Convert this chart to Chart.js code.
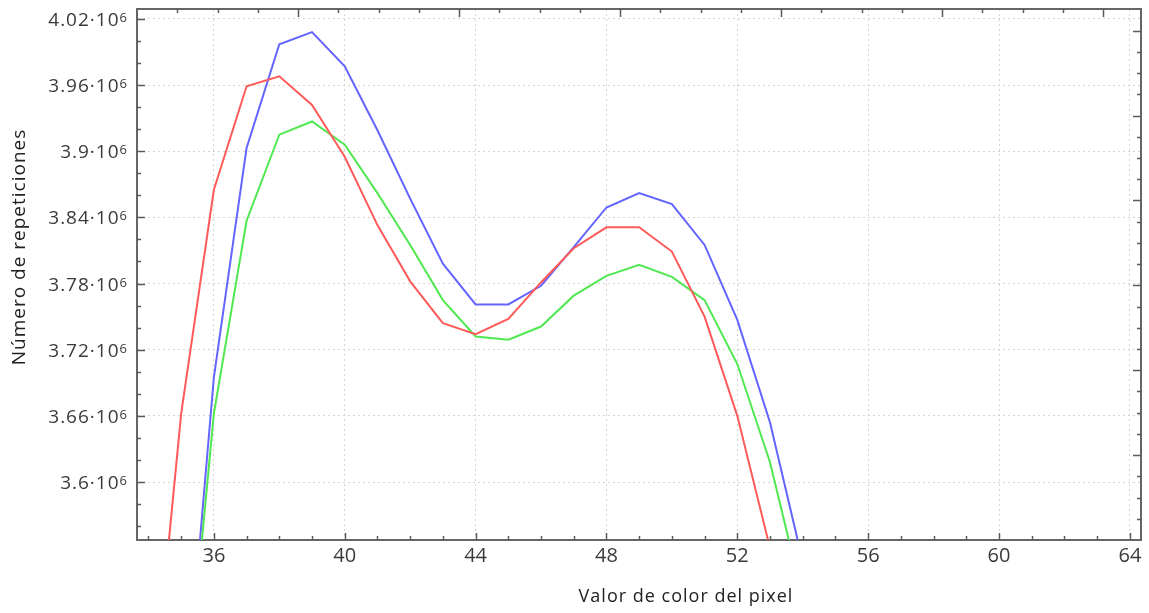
<!DOCTYPE html>
<html>
<head>
<meta charset="utf-8">
<script src="https://cdn.jsdelivr.net/npm/chart.js@4/dist/chart.umd.min.js"></script>
<style>
  html, body { margin: 0; padding: 0; background: #fff; }
</style>
</head>
<body>
<canvas id="chart" width="1149" height="613"></canvas>
<script>
// pixel colour value (x) and number of repetitions per channel
const pixelValues = [34, 35, 36, 37, 38, 39, 40, 41, 42, 43, 44, 45, 46, 47, 48, 49, 50, 51, 52, 53, 54];
const redCounts   = [3355000, 3662000, 3865000, 3959000, 3968000, 3942000, 3895000, 3833000, 3782000, 3744000, 3734000,
                     3748000, 3781000, 3812000, 3831000, 3831000, 3809000, 3750000, 3660000, 3540000, 3400000];
const blueCounts  = [null, 3347000, 3695000, 3903000, 3997000, 4008000, 3977000, 3919000, 3857000, 3798000, 3761000,
                     3761000, 3778000, 3813000, 3849000, 3862000, 3852000, 3815000, 3747000, 3654000, 3528000];
const greenCounts = [null, 3348000, 3662000, 3837000, 3915000, 3927000, 3906000, 3862000, 3815000, 3765000, 3732000,
                     3729000, 3741000, 3769000, 3787000, 3797000, 3786000, 3765000, 3707000, 3618000, 3495000];

const xTickLabels = [36, 40, 44, 48, 52, 56, 60, 64];
const yTickLabels = [3600000, 3660000, 3720000, 3780000, 3840000, 3900000, 3960000, 4020000];

const toPoints = arr => arr.map((v, i) => ({ x: pixelValues[i], y: v }));

// small tick marks pointing into the plot, on all four sides
const innerTicks = {
  id: 'innerTicks',
  afterDraw(chart) {
    const { ctx, chartArea: a, scales } = chart;
    ctx.save();
    ctx.strokeStyle = '#5a5a5a';
    ctx.lineWidth = 1.5;
    const mark = (x1, y1, x2, y2) => { ctx.beginPath(); ctx.moveTo(x1, y1); ctx.lineTo(x2, y2); ctx.stroke(); };
    for (let v = 34; v <= 64; v++) {
      const px = Math.round(scales.x.getPixelForValue(v)) + 0.5;
      mark(px, a.bottom, px, a.bottom - (v % 4 === 0 ? 7 : 4));
    }
    for (let k = 178; k <= 201; k++) {
      const py = Math.round(scales.y.getPixelForValue(k * 20000)) + 0.5;
      mark(a.left, py, a.left + (k % 3 === 0 ? 8 : 4), py);
    }
    for (let k = 1; k <= 24; k++) {
      const px = Math.round(scales.x2.getPixelForValue(k)) + 0.5;
      mark(px, a.top, px, a.top + (k % 4 === 0 ? 8 : 4));
    }
    for (let k = 1; k <= 24; k++) {
      const py = Math.round(scales.y2.getPixelForValue(k)) + 0.5;
      mark(a.right, py, a.right - (k % 4 === 0 ? 8 : 4), py);
    }
    ctx.restore();
  }
};

// y tick labels as "3.9·10" with a raised 6
const yLabels = {
  id: 'yLabels',
  afterDraw(chart) {
    const { ctx, scales: { y } } = chart;
    const right = 127;
    ctx.save();
    ctx.fillStyle = '#3a3a3a';
    ctx.textAlign = 'right';
    ctx.textBaseline = 'alphabetic';
    y.ticks.forEach(t => {
      const py = y.getPixelForValue(t.value);
      ctx.font = '13px "Open Sans"';
      ctx.letterSpacing = '0px';
      const supW = ctx.measureText('6').width;
      ctx.fillText('6', right, py + 3);
      ctx.font = '19px "Open Sans"';
      ctx.letterSpacing = '1px';
      ctx.fillText(parseFloat((t.value / 1e6).toFixed(2)) + '·10', right - supW, py + 7);
    });
    ctx.restore();
  }
};

// axis titles, placed where the original has them
const axisTitles = {
  id: 'axisTitles',
  afterDraw(chart) {
    const { ctx } = chart;
    ctx.save();
    ctx.fillStyle = '#222';
    ctx.textAlign = 'center';
    ctx.textBaseline = 'middle';
    ctx.letterSpacing = '1px';
    ctx.font = '18px "Open Sans"';
    ctx.fillText('Valor de color del pixel', 686, 597);
    ctx.translate(20, 247);
    ctx.rotate(-Math.PI / 2);
    ctx.font = '19px "Open Sans"';
    ctx.fillText('Número de repeticiones', 0, 0);
    ctx.restore();
  }
};

const line = (data, color) => ({
  data: toPoints(data),
  borderColor: color,
  borderWidth: 2,
  pointRadius: 0,
  fill: false,
  tension: 0
});

new Chart(document.getElementById('chart'), {
  type: 'line',
  data: {
    datasets: [
      line(redCounts, 'rgb(255, 90, 90)'),
      line(greenCounts, 'rgb(80, 232, 80)'),
      line(blueCounts, 'rgb(100, 100, 255)')
    ]
  },
  options: {
    responsive: false,
    animation: false,
    devicePixelRatio: 1,
    layout: { padding: 0 },
    plugins: { legend: { display: false }, tooltip: { enabled: false } },
    scales: {
      x: {
        type: 'linear',
        position: 'bottom',
        min: 33.65,
        max: 64.34,
        afterBuildTicks: s => { s.ticks = xTickLabels.map(v => ({ value: v })); },
        afterFit: s => { s.height = 73; s.paddingLeft = 0; s.paddingRight = 0; },
        ticks: { color: '#3a3a3a', font: { family: 'Open Sans', size: 20 }, padding: 4, maxRotation: 0 },
        grid: { color: '#d4d4d4', lineWidth: 1, drawTicks: false },
        border: { color: '#666', width: 2, dash: [2, 3] }
      },
      y: {
        type: 'linear',
        position: 'left',
        min: 3547400,
        max: 4029000,
        afterBuildTicks: s => { s.ticks = yTickLabels.map(v => ({ value: v })); },
        afterFit: s => { s.width = 137; s.paddingTop = 0; s.paddingBottom = 0; },
        ticks: { display: false },
        grid: { color: '#d4d4d4', lineWidth: 1, drawTicks: false },
        border: { color: '#666', width: 2, dash: [2, 3] }
      },
      x2: {
        type: 'linear',
        position: 'top',
        min: 0,
        max: 24.94,
        afterFit: s => { s.height = 9; },
        ticks: { display: false },
        grid: { display: false, drawTicks: false },
        border: { color: '#666', width: 2 }
      },
      y2: {
        type: 'linear',
        position: 'right',
        min: 0,
        max: 25.02,
        afterFit: s => { s.width = 8; },
        ticks: { display: false },
        grid: { display: false, drawTicks: false },
        border: { color: '#666', width: 2 }
      }
    }
  },
  plugins: [innerTicks, yLabels, axisTitles]
});
</script>
</body>
</html>
